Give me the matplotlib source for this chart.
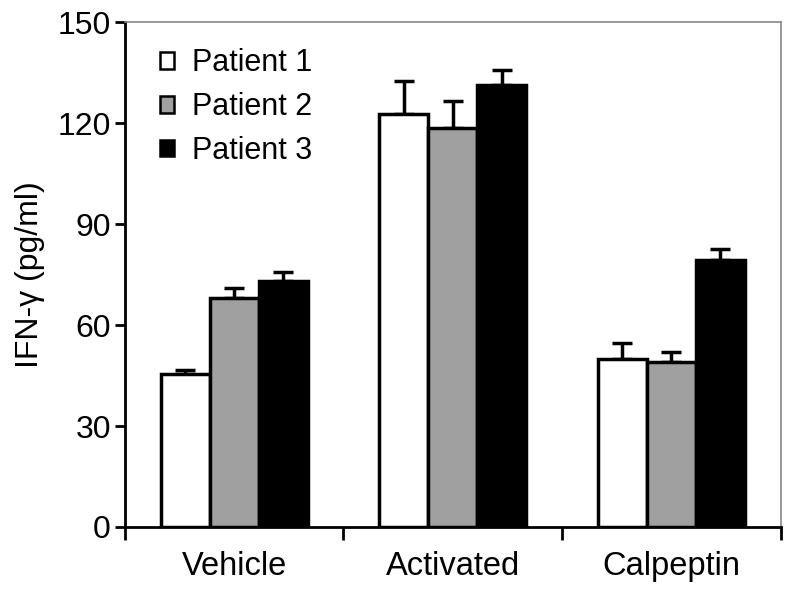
import numpy as np
import matplotlib.pyplot as plt
from matplotlib.patches import Patch

plt.rcParams['font.family'] = ['Liberation Sans', 'DejaVu Sans']

# data
categories = ['Vehicle', 'Activated', 'Calpeptin']
series = ['Patient 1', 'Patient 2', 'Patient 3']
means = [
    [45.4, 122.8, 49.9],   # Patient 1
    [67.9, 118.5, 49.0],   # Patient 2
    [73.1, 131.4, 79.4],   # Patient 3
]
errors = [
    [1.1, 9.6, 4.8],
    [3.1, 8.2, 3.1],
    [2.8, 4.5, 3.3],
]
colors = ['white', '#a0a0a0', 'black']

fig = plt.figure(figsize=(8, 5.94), dpi=100)
ax = fig.add_axes([0.156, 0.1128, 0.82, 0.85])

x = np.arange(len(categories))
w = 0.224
for i in range(len(series)):
    pos = x + (i - 1) * w
    ax.errorbar(pos, means[i], yerr=[np.zeros(len(categories)), errors[i]],
                fmt='none', ecolor='black', elinewidth=2.5, capsize=7.5,
                capthick=2.5, zorder=1)
    ax.bar(pos, means[i], width=w, color=colors[i], edgecolor='black',
           linewidth=2.5, zorder=2)

ax.set_xlim(-0.5, 2.5)
ax.set_ylim(0, 150)
ax.set_yticks([0, 30, 60, 90, 120, 150])
ax.set_xticks(x)
ax.set_xticklabels(categories)
ax.set_xticks([-0.5, 0.5, 1.5, 2.5], minor=True)
ax.tick_params(axis='x', which='major', length=0, pad=17, labelsize=23.5)
ax.tick_params(axis='x', which='minor', length=9, width=2, direction='out')
ax.tick_params(axis='y', length=7, width=2, direction='out', labelsize=23, pad=3)
ax.set_ylabel('IFN-γ (pg/ml)', fontsize=23, labelpad=9)

for s in ['left', 'bottom']:
    ax.spines[s].set_linewidth(2)
    ax.spines[s].set_color('black')
for s in ['top', 'right']:
    ax.spines[s].set_linewidth(1.2)
    ax.spines[s].set_color('#888888')

handles = [Patch(facecolor=c, edgecolor='black', linewidth=1.8) for c in colors]
ax.legend(handles, series, loc='upper left', bbox_to_anchor=(0.035, 0.972),
          frameon=False, fontsize=22, handlelength=0.45, handleheight=0.45,
          handletextpad=0.6, labelspacing=0.45, borderaxespad=0)

fig.savefig('out.png', dpi=100)
